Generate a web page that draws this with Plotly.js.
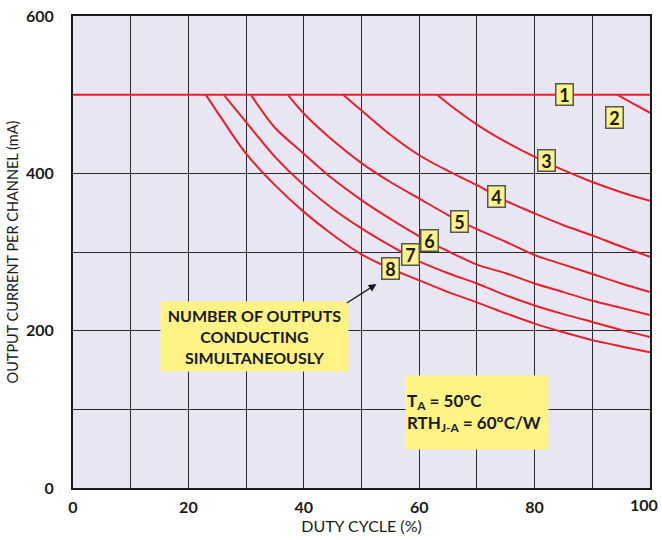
<!DOCTYPE html>
<html><head><meta charset="utf-8">
<script src="https://cdn.plot.ly/plotly-3.0.1.min.js"></script>
<style>body{margin:0;background:#fff}#chart{width:662px;height:540px}</style>
</head><body><div id="chart"></div>
<script>
// Data (duty cycle %, output current mA)
const curve1_x = [0, 100];
const curve1_y = [500, 500];
const curve2_x = [94.3, 97, 100];
const curve2_y = [500, 489, 477];
const curve3_x = [63.1, 66, 70, 75, 80, 85, 90, 95, 100];
const curve3_y = [500, 483, 462, 440, 421, 404, 389, 376, 365];
const curve4_x = [46.8, 50, 55, 60, 65, 70, 75, 80, 85, 90, 95, 100];
const curve4_y = [500, 480, 449, 423, 403, 385, 365, 349, 334, 321, 307, 294];
const curve5_x = [37.2, 40, 45, 50, 55, 60, 65, 70, 75, 80, 85, 90, 95, 100];
const curve5_y = [500, 476, 442, 413, 389, 368, 347, 329, 313, 296, 284, 272, 260, 249];
const curve6_x = [30.8, 35, 40, 45, 50, 55, 60, 65, 70, 75, 80, 85, 90, 95, 100];
const curve6_y = [500, 458, 425, 393, 366, 342, 320, 301, 284, 273, 260, 249, 238, 229, 220];
const curve7_x = [26.1, 30, 35, 40, 45, 50, 55, 60, 65, 70, 75, 80, 85, 90, 95, 100];
const curve7_y = [500, 465, 421, 385, 355, 330, 308, 288, 273, 260, 245, 232, 221, 211, 201, 192];
const curve8_x = [23.0, 26, 30, 35, 40, 45, 50, 55, 60, 65, 70, 75, 80, 85, 90, 95, 100];
const curve8_y = [500, 467, 425, 385, 351, 322, 297, 279, 264, 249, 236, 222, 209, 198, 188, 180, 172.5];

const labels = ['1', '2', '3', '4', '5', '6', '7', '8'];
const label_x = [85.1, 93.9, 82.1, 73.4, 67.0, 61.8, 58.5, 55.0];
const label_y = [500, 471.6, 415.7, 371, 339, 314, 297, 279.6];

const xTickVals = [0, 20, 40, 60, 80];
const xTickText = ['0', '20', '40', '60', '80'];
const xLastTick = 100;

const RED = '#e8202a';
const FONT = 'Lato, "Open Sans", sans-serif';
const curves = [[curve1_x, curve1_y], [curve2_x, curve2_y], [curve3_x, curve3_y], [curve4_x, curve4_y],
                [curve5_x, curve5_y], [curve6_x, curve6_y], [curve7_x, curve7_y], [curve8_x, curve8_y]];
const traces = curves.map((c, i) => ({
  x: c[0], y: c[1], mode: 'lines', type: 'scatter', name: labels[i],
  line: {color: RED, width: 2, shape: 'spline', smoothing: 0.8}, hoverinfo: 'skip'
}));

const annotations = labels.map((t, i) => ({
  x: label_x[i], y: label_y[i], xref: 'x', yref: 'y', text: '<b>' + t + '</b>', showarrow: false,
  font: {family: FONT, size: 18, color: '#1a1a1a'}, bgcolor: '#fff386', bordercolor: '#555',
  borderwidth: 1.5, borderpad: 1, width: 14, height: 18
}));
annotations.push({
  x: 31.5, y: 192.6, xref: 'x', yref: 'y', showarrow: false,
  text: '<b>NUMBER OF OUTPUTS<br>CONDUCTING<br>SIMULTANEOUSLY</b>',
  font: {family: FONT, size: 16, color: '#1a1a1a'}, bgcolor: '#fff386', width: 185, height: 67, align: 'center'
});
annotations.push({
  x: 52.6, y: 259.3, ax: 47.2, ay: 234, xref: 'x', yref: 'y', axref: 'x', ayref: 'y', text: '',
  showarrow: true, arrowhead: 2, arrowsize: 1.2, arrowwidth: 1.3, arrowcolor: '#1a1a1a'
});
annotations.push({
  x: 70, y: 96.6, xref: 'x', yref: 'y', showarrow: false,
  text: '<b>T<sub>A</sub> = 50°C<br>RTH<sub>J-A</sub> = 60°C/W</b>',
  font: {family: FONT, size: 17, color: '#1a1a1a'}, bgcolor: '#fff386', width: 140, height: 71, align: 'left'
});
// last x tick label, nudged left so it stays inside the picture
annotations.push({
  x: xLastTick, y: 0, xref: 'x', yref: 'paper', text: '<b>' + xLastTick + '</b>', showarrow: false,
  xanchor: 'right', yanchor: 'top', xshift: 10, yshift: -5,
  font: {family: FONT, size: 16, color: '#1a1a1a'}
});

const layout = {
  width: 662, height: 540, margin: {l: 73, r: 12, t: 16, b: 52},
  paper_bgcolor: '#ffffff', plot_bgcolor: '#e7e6f2', showlegend: false,
  font: {family: FONT, color: '#1a1a1a'},
  xaxis: {range: [0, 100], tickvals: xTickVals, ticktext: xTickText, showgrid: true, gridcolor: '#2a2a2a', gridwidth: 1,
    minor: {dtick: 10, tick0: 0, showgrid: true, gridcolor: '#2a2a2a', gridwidth: 1},
    zeroline: false, showline: true, mirror: true, linecolor: '#1a1a1a', linewidth: 2, ticks: '',
    tickfont: {family: FONT, size: 16, weight: 'bold', color: '#1a1a1a'}, ticklabelstandoff: 4,
    title: {text: 'DUTY CYCLE (%)', font: {family: FONT, size: 16, color: '#1a1a1a'}, standoff: 6}},
  yaxis: {range: [0, 600], dtick: 200, tick0: 0, showgrid: true, gridcolor: '#2a2a2a', gridwidth: 1,
    minor: {dtick: 100, showgrid: true, gridcolor: '#2a2a2a', gridwidth: 1},
    zeroline: false, showline: true, mirror: true, linecolor: '#1a1a1a', linewidth: 2, ticks: '',
    ticklabeloverflow: 'allow',
    tickfont: {family: FONT, size: 16, weight: 'bold', color: '#1a1a1a'}, ticklabelstandoff: 14,
    title: {text: 'OUTPUT CURRENT PER CHANNEL (mA)', font: {family: FONT, size: 14.5, color: '#1a1a1a'}, standoff: 4}},
  annotations: annotations
};
Plotly.newPlot('chart', traces, layout, {staticPlot: true, displayModeBar: false});
</script></body></html>
